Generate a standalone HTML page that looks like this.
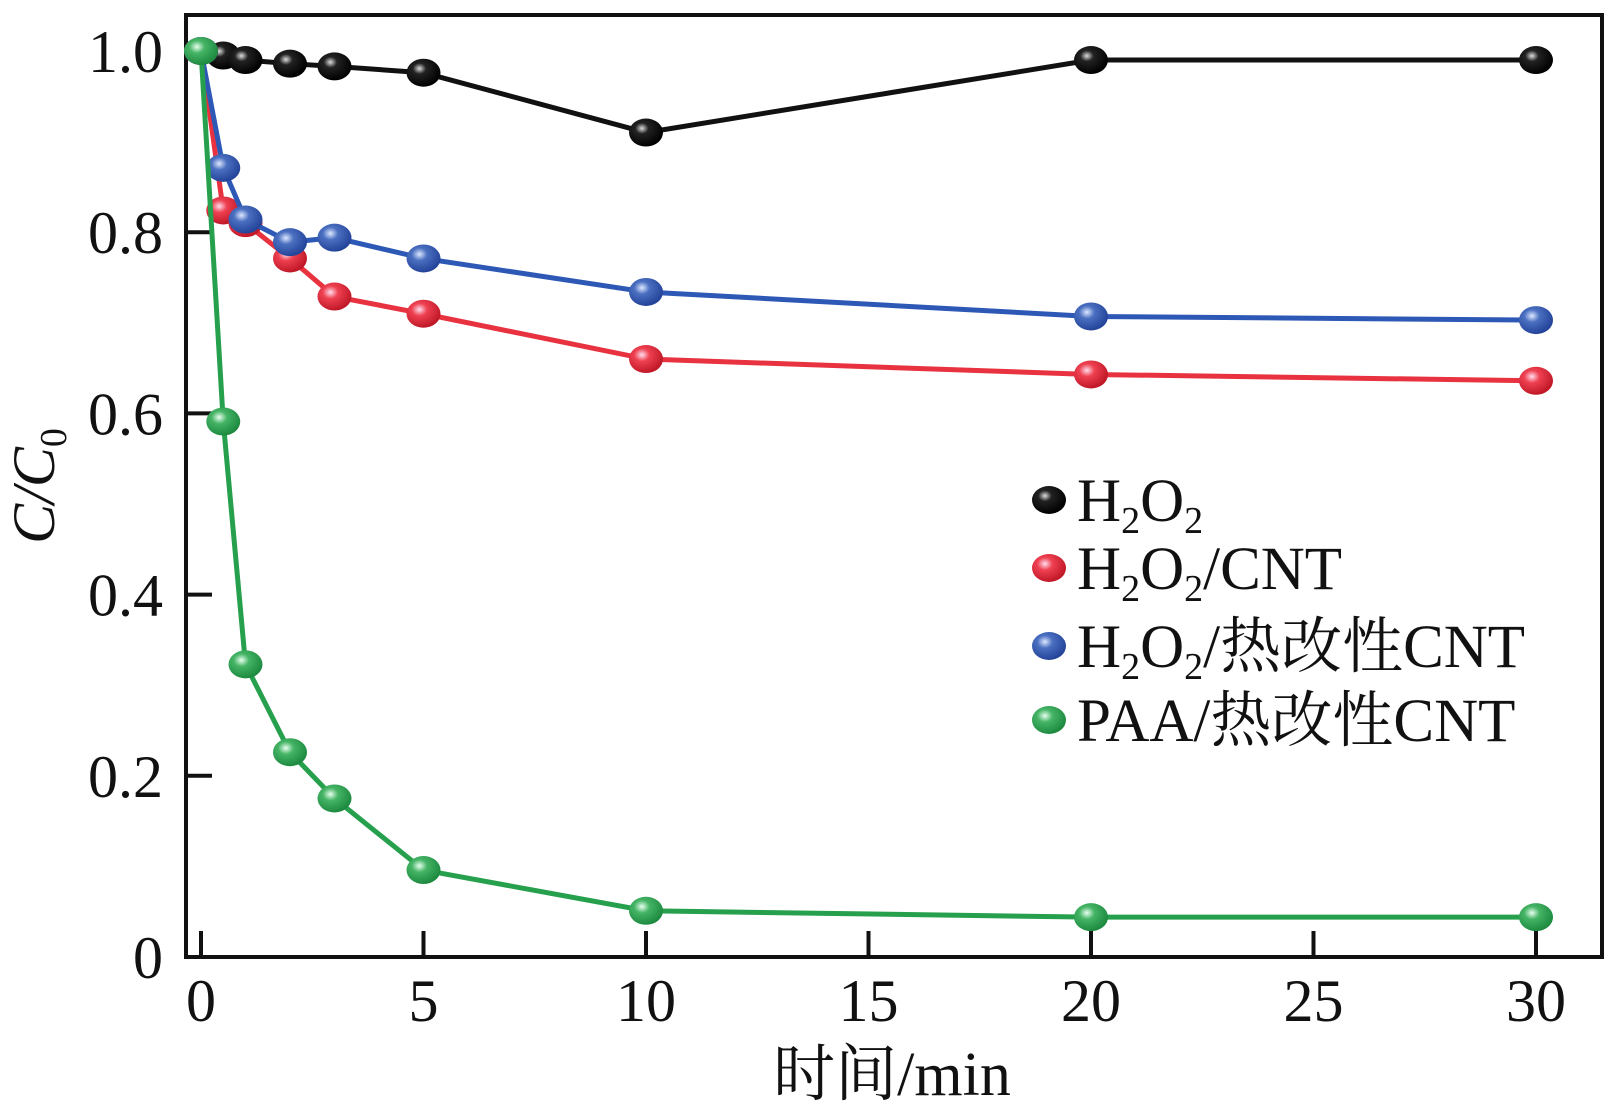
<!DOCTYPE html>
<html><head><meta charset="utf-8"><style>
html,body{margin:0;padding:0;background:#fff;}
svg{display:block;}
text{font-family:"Liberation Serif","Noto Serif CJK SC",serif;fill:#111;}
</style></head><body>
<svg id="chart" width="1617" height="1118" viewBox="0 0 1617 1118" xmlns="http://www.w3.org/2000/svg">
<defs>
<radialGradient id="g-black" cx="38%" cy="35%" r="65%"><stop offset="0" stop-color="#ddd"/><stop offset="0.3" stop-color="#222"/><stop offset="1" stop-color="#000"/></radialGradient>
<radialGradient id="g-red" cx="38%" cy="35%" r="65%"><stop offset="0" stop-color="#fde"/><stop offset="0.35" stop-color="#ee4050"/><stop offset="1" stop-color="#c01828"/></radialGradient>
<radialGradient id="g-blue" cx="38%" cy="35%" r="65%"><stop offset="0" stop-color="#dde8ff"/><stop offset="0.35" stop-color="#4a6fc0"/><stop offset="1" stop-color="#24449a"/></radialGradient>
<radialGradient id="g-green" cx="38%" cy="35%" r="65%"><stop offset="0" stop-color="#e8fff0"/><stop offset="0.35" stop-color="#45b465"/><stop offset="1" stop-color="#1d8a40"/></radialGradient>
</defs>
<rect x="186" y="15" width="1416" height="942" fill="none" stroke="#111" stroke-width="4"/>
<g id="ticks"></g>
<g id="series"></g>
<text transform="translate(54,486) rotate(-90)" text-anchor="middle" font-size="60" font-style="italic">C/C<tspan font-size="38" dy="12" font-style="normal">0</tspan></text>
<text x="892" y="1095" text-anchor="middle" font-size="62">时间/min</text>
<g id="legend"></g>
</svg>
<script>
const times = [0, 0.5, 1, 2, 3, 5, 10, 20, 30];
const h2o2 = [1.0, 0.995, 0.99, 0.986, 0.983, 0.976, 0.91, 0.99, 0.99];
const h2o2Cnt = [1.0, 0.824, 0.81, 0.771, 0.729, 0.71, 0.66, 0.643, 0.636];
const h2o2HeatCnt = [1.0, 0.871, 0.814, 0.789, 0.794, 0.771, 0.734, 0.707, 0.703];
const paaHeatCnt = [1.0, 0.591, 0.323, 0.226, 0.175, 0.096, 0.051, 0.044, 0.044];
const xTicks = [0, 5, 10, 15, 20, 25, 30];
const yTicks = [0, 0.2, 0.4, 0.6, 0.8, 1.0];
const yTickLabels = ["0", "0.2", "0.4", "0.6", "0.8", "1.0"];
const seriesNames = ["H2O2", "H2O2/CNT", "H2O2/热改性CNT", "PAA/热改性CNT"];

const NS = "http://www.w3.org/2000/svg";
const xScale = v => 201 + v * (1536 - 201) / 30;
const yScale = v => 957 - v * 906;
function mk(tag, attrs, parent){const e=document.createElementNS(NS,tag);for(const k in attrs)e.setAttribute(k,attrs[k]);parent.appendChild(e);return e;}

const tg = document.getElementById('ticks');
xTicks.forEach(t=>{
  const l = mk('line',{x1:xScale(t),x2:xScale(t),y1:957,y2:931,stroke:'#111','stroke-width':4},tg);
  
  
  const tx = mk('text',{x:xScale(t),y:1021,'text-anchor':'middle','font-size':60},tg);
  tx.textContent = t;
  
  
});
yTicks.forEach((t,i)=>{
  const l = mk('line',{x1:186,x2:212,y1:yScale(t),y2:yScale(t),stroke:'#111','stroke-width':4},tg);
  
  
  const tx = mk('text',{x:163,y:yScale(t)+21,'text-anchor':'end','font-size':60},tg);
  tx.textContent = yTickLabels[i];
  
  
});

const sg = document.getElementById('series');
const allSeries = [
  {vals:h2o2, color:'#111', grad:'g-black', name:'series-h2o2'},
  {vals:h2o2Cnt, color:'#e8323f', grad:'g-red', name:'series-h2o2-cnt'},
  {vals:h2o2HeatCnt, color:'#2d58b5', grad:'g-blue', name:'series-h2o2-heat-cnt'},
  {vals:paaHeatCnt, color:'#26a04c', grad:'g-green', name:'series-paa-heat-cnt'}
];
allSeries.forEach(s=>{
  const g = mk('g',{},sg);
  
  
  const pts = times.map((t,i)=>xScale(t)+','+yScale(s.vals[i])).join(' ');
  const pl = mk('polyline',{points:pts,fill:'none',stroke:s.color,'stroke-width':5},g);
  
  
  times.forEach((t,i)=>{
    const c = mk('ellipse',{cx:xScale(t),cy:yScale(s.vals[i]),rx:17,ry:14,fill:'url(#'+s.grad+')'},g);
    
    
  });
});

const lg = document.getElementById('legend');
const legendY = [500, 568, 646, 720];
const legendHtml = [
  'H<tspan font-size="38" dy="12">2</tspan><tspan dy="-12">O</tspan><tspan font-size="38" dy="12">2</tspan>',
  'H<tspan font-size="38" dy="12">2</tspan><tspan dy="-12">O</tspan><tspan font-size="38" dy="12">2</tspan><tspan dy="-12">/CNT</tspan>',
  'H<tspan font-size="38" dy="12">2</tspan><tspan dy="-12">O</tspan><tspan font-size="38" dy="12">2</tspan><tspan dy="-12">/热改性CNT</tspan>',
  'PAA/热改性CNT'
];
allSeries.forEach((s,i)=>{
  const c = mk('ellipse',{cx:1049,cy:legendY[i],rx:17,ry:14,fill:'url(#'+s.grad+')'},lg);
  
  
  const t = mk('text',{x:1077,y:legendY[i]+21,'font-size':61},lg);
  t.innerHTML = legendHtml[i];
  
  
});
</script>
</body></html>
